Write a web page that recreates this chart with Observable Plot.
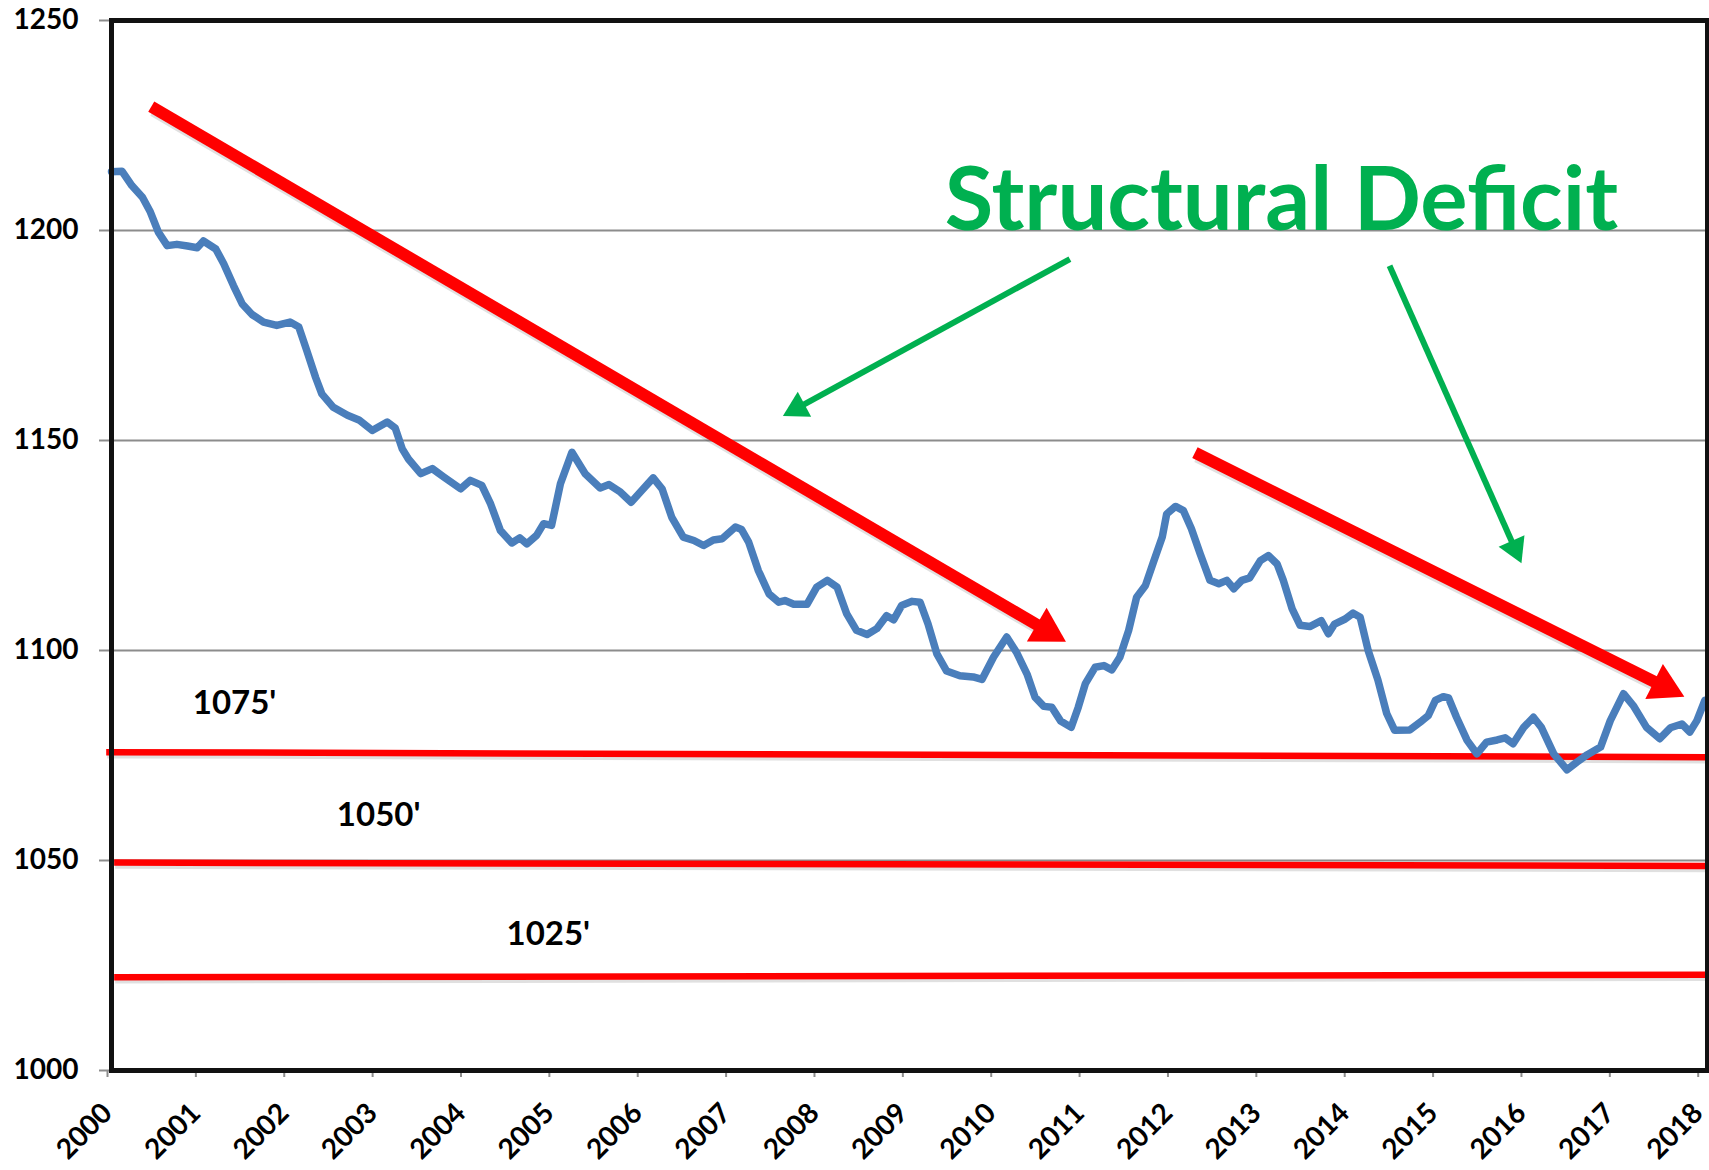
<!DOCTYPE html>
<html><head><meta charset="utf-8">
<script src="https://cdn.jsdelivr.net/npm/d3@7"></script>
<script src="https://cdn.jsdelivr.net/npm/@observablehq/plot@0.6"></script>
<style>html,body{margin:0;padding:0;background:#fff;} #chart{width:1709px;height:1170px;}</style>
</head><body><div id="chart"></div>
<script>
// ---- data (decimal year, lake elevation in feet) ----
const yearPos = [2000.00,2000.12,2000.23,2000.35,2000.44,2000.53,2000.63,2000.74,2000.86,2000.97,
2001.04,2001.18,2001.27,2001.38,2001.48,2001.59,2001.72,2001.87,2002.02,2002.12,
2002.21,2002.31,2002.38,2002.51,2002.67,2002.80,2002.95,2003.12,2003.21,2003.29,
2003.36,2003.50,2003.63,2003.76,2003.95,2004.06,2004.19,2004.29,2004.40,2004.53,
2004.62,2004.70,2004.81,2004.89,2004.98,2005.08,2005.21,2005.36,2005.53,2005.63,
2005.76,2005.88,2006.00,2006.13,2006.23,2006.34,2006.47,2006.59,2006.70,2006.81,
2006.91,2007.06,2007.13,2007.21,2007.32,2007.44,2007.55,2007.62,2007.72,2007.87,
2007.98,2008.10,2008.21,2008.32,2008.43,2008.55,2008.66,2008.77,2008.85,2008.94,
2009.06,2009.15,2009.24,2009.34,2009.45,2009.60,2009.75,2009.85,2009.98,2010.13,
2010.24,2010.36,2010.45,2010.55,2010.64,2010.74,2010.86,2010.94,2011.02,2011.13,
2011.23,2011.32,2011.41,2011.51,2011.60,2011.70,2011.79,2011.89,2011.94,2012.04,
2012.13,2012.22,2012.32,2012.43,2012.53,2012.62,2012.70,2012.79,2012.88,2013.00,
2013.09,2013.19,2013.26,2013.36,2013.45,2013.56,2013.69,2013.77,2013.84,2013.96,
2014.05,2014.13,2014.22,2014.33,2014.43,2014.52,2014.69,2014.83,2014.90,2014.98,
2015.07,2015.13,2015.22,2015.34,2015.45,2015.56,2015.68,2015.77,2015.86,2015.98,
2016.09,2016.18,2016.32,2016.47,2016.58,2016.70,2016.85,2016.96,2017.11,2017.22,
2017.37,2017.52,2017.64,2017.77,2017.86,2017.94,2018.03];
const elevation = [1214.0,1214.1,1210.7,1207.9,1204.4,1199.6,1196.4,1196.7,1196.3,1195.9,
1197.5,1195.6,1192.1,1186.9,1182.5,1180.0,1178.2,1177.4,1178.2,1177.0,
1171.4,1165.0,1161.1,1157.9,1156.0,1154.9,1152.4,1154.4,1153.0,1148.0,
1145.6,1142.1,1143.3,1141.3,1138.5,1140.5,1139.3,1134.9,1128.6,1125.6,
1126.8,1125.4,1127.4,1130.2,1129.8,1139.7,1147.2,1142.1,1138.7,1139.5,
1137.7,1135.3,1138.1,1141.1,1138.5,1131.7,1127.0,1126.2,1125.0,1126.3,
1126.6,1129.4,1128.8,1125.8,1119.0,1113.5,1111.5,1111.9,1111.0,1111.0,
1115.1,1116.7,1115.1,1108.7,1104.8,1103.8,1105.2,1108.3,1107.3,1110.7,
1111.7,1111.5,1106.3,1099.2,1095.1,1094.0,1093.7,1093.1,1098.4,1103.2,
1099.6,1094.4,1088.9,1086.7,1086.5,1083.2,1081.7,1086.5,1092.1,1096.0,
1096.4,1095.4,1098.4,1104.8,1112.7,1115.5,1121.0,1127.0,1132.5,1134.3,
1133.3,1129.0,1123.0,1116.7,1115.9,1116.7,1114.7,1116.7,1117.3,1121.4,
1122.6,1120.6,1116.7,1109.9,1106.0,1105.7,1107.1,1104.0,1106.3,1107.5,
1108.9,1107.9,1100.0,1093.0,1085.0,1081.0,1081.1,1083.3,1084.5,1088.1,
1089.0,1088.7,1084.1,1078.6,1075.4,1078.2,1078.7,1079.2,1077.8,1081.7,
1084.1,1081.7,1075.4,1071.6,1073.4,1075.2,1077.0,1083.3,1089.7,1086.9,
1081.7,1079.0,1081.6,1082.5,1080.6,1083.3,1088.1];

const xTicks = d3.range(2000, 2019);
const yTicks = [1000, 1050, 1100, 1150, 1200, 1250];
const gridLevels = [1050, 1100, 1150, 1200];

// threshold lines (hand-drawn, slightly tilted) and their labels
const levelLabels = ["1075'", "1050'", "1025'"];
const levelStartX = [1999.94, 2000.03, 2000.03];
const levelStartY = [1075.8, 1049.5, 1022.2];
const levelEndX = [2018.06, 2018.06, 2018.06];
const levelEndY = [1074.6, 1048.7, 1022.8];
const levelLabelX = [2000.92, 2002.55, 2004.47];
const levelLabelY = [1084.8, 1058.1, 1030.0];

// red trend arrows: start, head centre, head direction (deg)
const redStartX = [2000.45, 2012.26];
const redStartY = [1229.5, 1147.1];
const redHeadX = [2010.58, 2017.57];
const redHeadY = [1104.8, 1091.4];
const redAngle = [120.3, 116.7];

// green pointer arrows
const greenStartX = [2010.845, 2014.462];
const greenStartY = [1193.2, 1191.6];
const greenHeadX = [2007.76, 2015.88];
const greenHeadY = [1157.7, 1124.3];
const greenAngle = [241.7, 156.1];

const titleText = "Structural Deficit";
const titleX = 2009.43;
const titleY = 1200.2;

// ---- build tables ----
const series = yearPos.map((t, i) => ({t, v: elevation[i]}));
const levels = levelLabels.map((label, i) => ({label, x1: levelStartX[i], y1: levelStartY[i], x2: levelEndX[i], y2: levelEndY[i], lx: levelLabelX[i], ly: levelLabelY[i]}));
const redArrows = redStartX.map((_, i) => ({x1: redStartX[i], y1: redStartY[i], x2: redHeadX[i], y2: redHeadY[i], a: redAngle[i]}));
const greenArrows = greenStartX.map((_, i) => ({x1: greenStartX[i], y1: greenStartY[i], x2: greenHeadX[i], y2: greenHeadY[i], a: greenAngle[i]}));

const RED = "#ff0000", GREEN = "#00b050", BLUE = "#4a7ebb";

const chart = Plot.plot({
  width: 1709, height: 1170,
  marginLeft: 111, marginRight: 2, marginTop: 20, marginBottom: 100,
  x: {domain: [2000, 2018.06]},
  y: {domain: [1000, 1250]},
  style: {fontFamily: "Lato", background: "#fff", color: "#000"},
  marks: [
    Plot.ruleY(gridLevels, {stroke: "#8c8c8c", strokeWidth: 2}),
    // threshold lines with faint shadow
    Plot.link(levels, {x1: "x1", y1: "y1", x2: "x2", y2: "y2", stroke: "#000", strokeOpacity: 0.12, strokeWidth: 6.5, dx: 1, dy: 3}),
    Plot.link(levels, {x1: "x1", y1: "y1", x2: "x2", y2: "y2", stroke: RED, strokeWidth: 6.5}),
    Plot.text(levels, {x: "lx", y: "ly", text: "label", fontSize: 33, fontWeight: "bold", fill: "#000", textAnchor: "start", lineAnchor: "bottom"}),
    // data line
    Plot.line(series, {x: "t", y: "v", stroke: BLUE, strokeWidth: 7.5, strokeLinejoin: "round", strokeLinecap: "round"}),
    // red arrows
    Plot.link(redArrows, {x1: "x1", y1: "y1", x2: "x2", y2: "y2", stroke: "#000", strokeOpacity: 0.12, strokeWidth: 12, dx: 2, dy: 4}),
    Plot.link(redArrows, {x1: "x1", y1: "y1", x2: "x2", y2: "y2", stroke: RED, strokeWidth: 12}),
    Plot.dot(redArrows, {x: "x2", y: "y2", symbol: "triangle", r: 14.5, fill: RED, stroke: "none", rotate: "a"}),
    // green arrows
    Plot.link(greenArrows, {x1: "x1", y1: "y1", x2: "x2", y2: "y2", stroke: GREEN, strokeWidth: 6}),
    Plot.dot(greenArrows, {x: "x2", y: "y2", symbol: "triangle", r: 10.5, fill: GREEN, stroke: "none", rotate: "a"}),
    Plot.text([{x: titleX, y: titleY, label: titleText}], {x: "x", y: "y", text: "label", fontSize: 88.5, fontWeight: "bold", fill: GREEN, textAnchor: "start", lineAnchor: "bottom"}),
    // axes
    Plot.axisY({ticks: yTicks, tickSize: 12, tickPadding: 21, fontSize: 28, fontWeight: "bold", stroke: "#8c8c8c", strokeWidth: 2, fill: "#000", tickFormat: d => String(d)}),
    Plot.axisX({ticks: xTicks, tickSize: 7, tickPadding: 31, tickRotate: -45, fontSize: 28, fontWeight: "bold", stroke: "#8c8c8c", strokeWidth: 2, fill: "#000", dx: -4, tickFormat: d => String(d)}),
    Plot.frame({stroke: "#111", strokeWidth: 5})
  ]
});
document.getElementById("chart").append(chart);
</script></body></html>
